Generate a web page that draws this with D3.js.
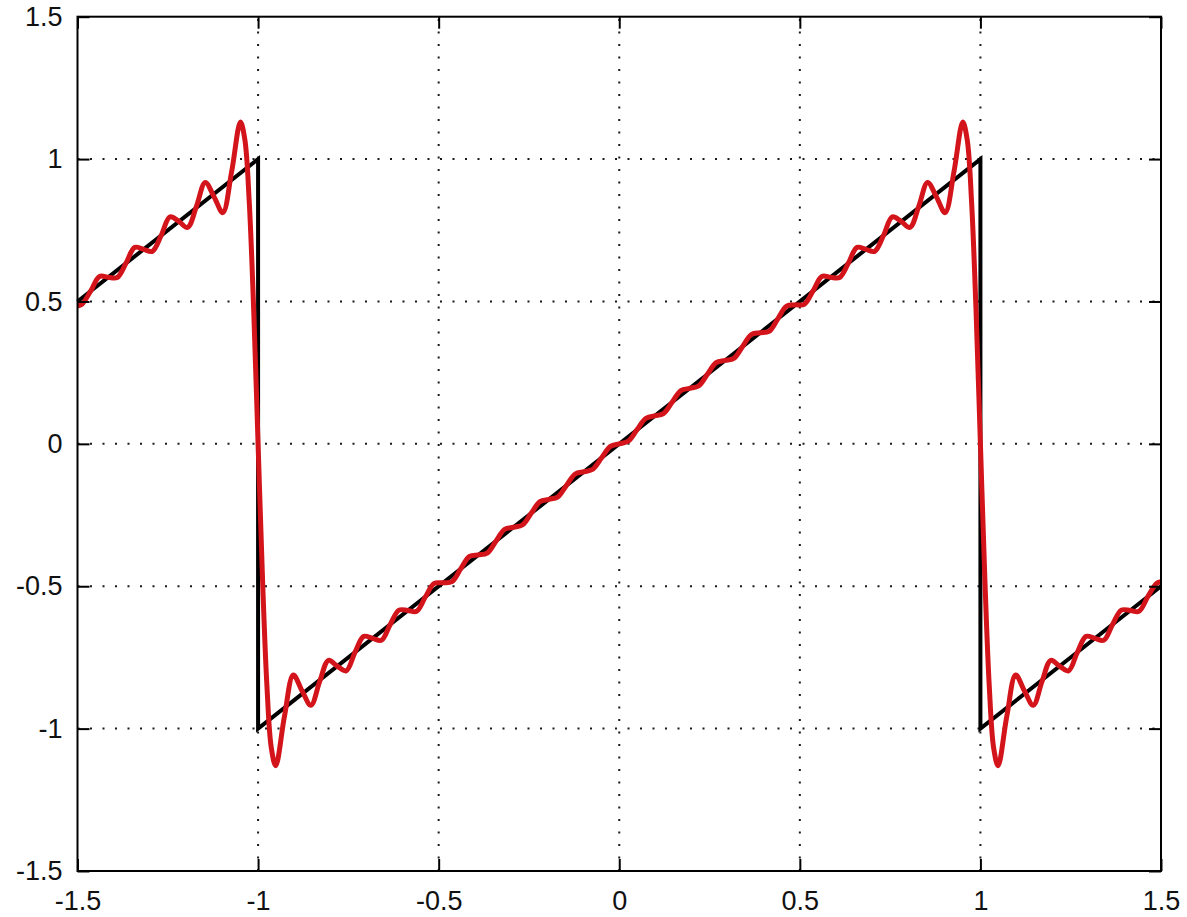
<!DOCTYPE html>
<html>
<head>
<meta charset="utf-8">
<script src="https://cdn.jsdelivr.net/npm/d3@7"></script>
<style>
  html, body { margin: 0; padding: 0; background: #fff; }
  svg { display: block; }
  .tick text { font-family: "Liberation Sans", Arial, sans-serif; font-size: 27px; fill: #111; }
</style>
</head>
<body>
<svg id="chart" width="1187" height="917"></svg>
<script>
// ---- data ----
const xTicks = [-1.5, -1, -0.5, 0, 0.5, 1, 1.5];
const xTickLabels = ["-1.5", "-1", "-0.5", "0", "0.5", "1", "1.5"];
const yTicks = [-1.5, -1, -0.5, 0, 0.5, 1, 1.5];
const yTickLabels = ["-1.5", "-1", "-0.5", "0", "0.5", "1", "1.5"];
const gridX = [-1, -0.5, 0, 0.5, 1];
const gridY = [-1, -0.5, 0, 0.5, 1];

// sawtooth (black)
const sawX = [-1.5, -1, -1, 1, 1, 1.5];
const sawY = [0.5, 1, -1, 1, -1, -0.5];

// partial Fourier sum (red)
const redX = [
  -1.5, -1.4878, -1.4634, -1.4390, -1.4146, -1.3902, -1.3659, -1.3415, -1.3171, -1.2927,
  -1.2683, -1.2439, -1.2195, -1.1951, -1.1707, -1.1463, -1.1220, -1.0976, -1.0732, -1.0488,
  -1.0366, -1.0244, -1.0122, -1.0, -0.9878, -0.9756, -0.9634, -0.9512, -0.9268, -0.9024,
  -0.8780, -0.8537, -0.8293, -0.8049, -0.7805, -0.7561, -0.7317, -0.7073, -0.6829, -0.6585,
  -0.6341, -0.6098, -0.5854, -0.5610, -0.5366, -0.5122, -0.4878, -0.4634, -0.4390, -0.4146,
  -0.3902, -0.3659, -0.3415, -0.3171, -0.2927, -0.2683, -0.2439, -0.2195, -0.1951, -0.1707,
  -0.1463, -0.1220, -0.0976, -0.0732, -0.0488, -0.0244, 0.0, 0.0244, 0.0488, 0.0732,
  0.0976, 0.1220, 0.1463, 0.1707, 0.1951, 0.2195, 0.2439, 0.2683, 0.2927, 0.3171,
  0.3415, 0.3659, 0.3902, 0.4146, 0.4390, 0.4634, 0.4878, 0.5122, 0.5366, 0.5610,
  0.5854, 0.6098, 0.6341, 0.6585, 0.6829, 0.7073, 0.7317, 0.7561, 0.7805, 0.8049,
  0.8293, 0.8537, 0.8780, 0.9024, 0.9268, 0.9512, 0.9634, 0.9756, 0.9878, 1.0,
  1.0122, 1.0244, 1.0366, 1.0488, 1.0732, 1.0976, 1.1220, 1.1463, 1.1707, 1.1951,
  1.2195, 1.2439, 1.2683, 1.2927, 1.3171, 1.3415, 1.3659, 1.3902, 1.4146, 1.4390,
  1.4634, 1.4878, 1.5
];
const redY = [
  0.484, 0.490, 0.537, 0.588, 0.585, 0.584, 0.634, 0.690, 0.683, 0.676,
  0.732, 0.797, 0.781, 0.760, 0.834, 0.918, 0.868, 0.812, 0.956, 1.130,
  1.068, 0.848, 0.471, 0.0, -0.471, -0.848, -1.068, -1.130, -0.956, -0.812,
  -0.868, -0.918, -0.834, -0.760, -0.781, -0.797, -0.732, -0.676, -0.683, -0.690,
  -0.634, -0.584, -0.585, -0.588, -0.537, -0.490, -0.488, -0.484, -0.439, -0.395,
  -0.390, -0.384, -0.342, -0.300, -0.293, -0.285, -0.244, -0.203, -0.195, -0.187,
  -0.146, -0.106, -0.098, -0.089, -0.049, -0.009, 0.0, 0.009, 0.049, 0.089,
  0.098, 0.106, 0.146, 0.187, 0.195, 0.203, 0.244, 0.285, 0.293, 0.300,
  0.342, 0.384, 0.390, 0.395, 0.439, 0.484, 0.488, 0.490, 0.537, 0.588,
  0.585, 0.584, 0.634, 0.690, 0.683, 0.676, 0.732, 0.797, 0.781, 0.760,
  0.834, 0.918, 0.868, 0.812, 0.956, 1.130, 1.068, 0.848, 0.471, 0.0,
  -0.471, -0.848, -1.068, -1.130, -0.956, -0.812, -0.868, -0.918, -0.834, -0.760,
  -0.781, -0.797, -0.732, -0.676, -0.683, -0.690, -0.634, -0.584, -0.585, -0.588,
  -0.537, -0.490, -0.484
];

// ---- layout ----
const mLeft = 77.5, mRight = 1161, mTop = 16.7, mBottom = 871;
const svg = d3.select("#chart");
const x = d3.scaleLinear().domain([-1.5, 1.5]).range([mLeft, mRight]);
const y = d3.scaleLinear().domain([-1.5, 1.5]).range([mBottom, mTop]);

// grid
const grid = svg.append("g").attr("stroke", "#1a1a1a").attr("stroke-width", 2)
  .attr("stroke-dasharray", "2 10.5");
grid.selectAll("line.gx").data(gridX).enter().append("line")
  .attr("class", "gx")
  .attr("x1", d => x(d)).attr("x2", d => x(d))
  .attr("y1", mBottom).attr("y2", mTop);
grid.selectAll("line.gy").data(gridY).enter().append("line")
  .attr("class", "gy")
  .attr("y1", d => y(d)).attr("y2", d => y(d))
  .attr("x1", mLeft).attr("x2", mRight);

// sawtooth
const sawData = sawX.map((v, i) => [v, sawY[i]]);
svg.append("path").datum(sawData)
  .attr("fill", "none").attr("stroke", "#000").attr("stroke-width", 4)
  .attr("stroke-linejoin", "miter")
  .attr("d", d3.line().x(d => x(d[0])).y(d => y(d[1])));

// red partial sum
const redData = redX.map((v, i) => [v, redY[i]]);
svg.append("path").datum(redData)
  .attr("fill", "none").attr("stroke", "#d3141b").attr("stroke-width", 5)
  .attr("stroke-linejoin", "round")
  .attr("d", d3.line().curve(d3.curveCatmullRom.alpha(0.5)).x(d => x(d[0])).y(d => y(d[1])));

// axes
const tick = 12;
const xAxis = d3.axisBottom(x).tickValues(xTicks)
  .tickFormat((d, i) => xTickLabels[i]).tickSizeInner(-tick).tickSizeOuter(0).tickPadding(20);
const yAxis = d3.axisLeft(y).tickValues(yTicks)
  .tickFormat((d, i) => yTickLabels[i]).tickSizeInner(-tick).tickSizeOuter(0).tickPadding(15);
const xTop = d3.axisTop(x).tickValues(xTicks).tickFormat("").tickSizeInner(-tick).tickSizeOuter(0);
const yRight = d3.axisRight(y).tickValues(yTicks).tickFormat("").tickSizeInner(-tick).tickSizeOuter(0);

function styleAxis(g) {
  g.select(".domain").remove();
  g.selectAll(".tick line").attr("stroke", "#000").attr("stroke-width", 2);
}
svg.append("g").attr("transform", `translate(0,${mBottom})`).call(xAxis).call(styleAxis);
svg.append("g").attr("transform", `translate(${mLeft},0)`).call(yAxis).call(styleAxis);
svg.append("g").attr("transform", `translate(0,${mTop})`).call(xTop).call(styleAxis);
svg.append("g").attr("transform", `translate(${mRight},0)`).call(yRight).call(styleAxis);
svg.selectAll(".tick text").attr("fill", "#111").style("font-family", '"Liberation Sans", Arial, sans-serif').style("font-size", "27px");

// frame
svg.append("rect").attr("x", mLeft).attr("y", mTop)
  .attr("width", mRight - mLeft).attr("height", mBottom - mTop)
  .attr("fill", "none").attr("stroke", "#000").attr("stroke-width", 2);
</script>
</body>
</html>
